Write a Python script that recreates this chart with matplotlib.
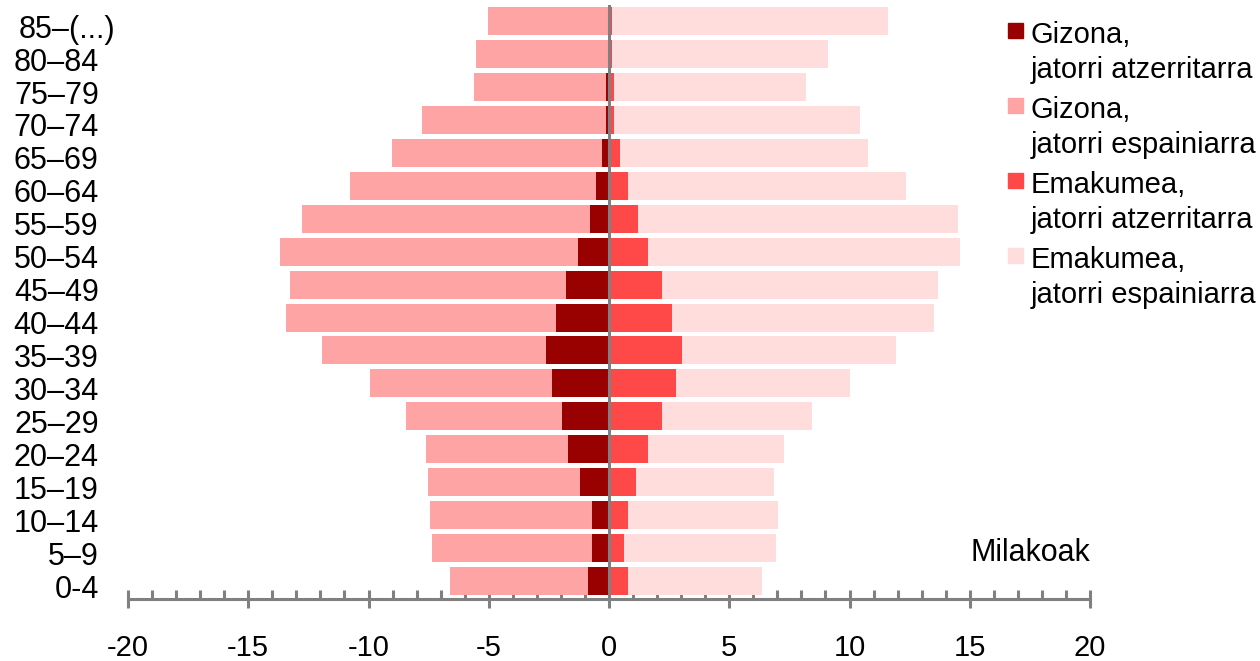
import numpy as np
import matplotlib
matplotlib.use("Agg")
from matplotlib import pyplot as plt
from matplotlib.patches import Rectangle
from matplotlib.transforms import ScaledTranslation

plt.rcParams["font.family"] = ["Liberation Sans", "DejaVu Sans"]

# Age groups, bottom to top
ages = ["0-4", "5–9", "10–14", "15–19", "20–24", "25–29", "30–34", "35–39",
        "40–44", "45–49", "50–54", "55–59", "60–64", "65–69", "70–74",
        "75–79", "80–84", "85–(...)"]

# Thousands of people
men_foreign = [0.87, 0.71, 0.71, 1.21, 1.70, 1.95, 2.37, 2.62, 2.20, 1.79,
               1.29, 0.79, 0.54, 0.29, 0.12, 0.12, 0.05, 0.05]
men_spanish = [5.74, 6.65, 6.73, 6.32, 5.91, 6.49, 7.57, 9.31, 11.23, 11.47,
               12.39, 11.98, 10.23, 8.73, 7.66, 5.49, 5.48, 4.98]
women_foreign = [0.79, 0.62, 0.79, 1.12, 1.62, 2.20, 2.79, 3.04, 2.62, 2.20,
                 1.62, 1.21, 0.79, 0.46, 0.20, 0.20, 0.12, 0.12]
women_spanish = [5.57, 6.32, 6.24, 5.74, 5.66, 6.24, 7.23, 8.89, 10.89, 11.48,
                 12.97, 13.30, 11.56, 10.31, 10.24, 7.99, 8.98, 11.48]

legend_labels = ["Gizona,\njatorri atzerritarra", "Gizona,\njatorri espainiarra",
                 "Emakumea,\njatorri atzerritarra", "Emakumea,\njatorri espainiarra"]
colors = ["#990000", "#FFA4A4", "#FF4848", "#FFDDDD"]
grey = "#808080"

y = np.arange(len(ages))
mf = np.array(men_foreign)
ms = np.array(men_spanish)
wf = np.array(women_foreign)
ws = np.array(women_spanish)

fig = plt.figure(figsize=(12.6, 6.61), dpi=100)
ax = fig.add_axes([128 / 1260, 62 / 661, 962 / 1260, 594 / 661])

h = 0.85
ax.barh(y, -mf, height=h, color=colors[0], zorder=2)
ax.barh(y, -ms, left=-mf, height=h, color=colors[1], zorder=2)
ax.barh(y, wf, height=h, color=colors[2], zorder=2)
ax.barh(y, ws, left=wf, height=h, color=colors[3], zorder=2)

ax.axvline(0, color=grey, lw=2.2, zorder=3)

ax.set_xlim(-20, 20)
ax.set_ylim(-0.546, 17.49)

for s in ["left", "right", "top"]:
    ax.spines[s].set_visible(False)
ax.spines["bottom"].set_color(grey)
ax.spines["bottom"].set_linewidth(2.2)

xt = np.arange(-20, 21, 5)
ax.set_xticks(xt)
ax.set_xticklabels([str(v) for v in xt], fontsize=21)
ax.set_xticks(np.arange(-20, 21, 1), minor=True)
ax.tick_params(axis="x", which="major", direction="inout", length=12.5,
               width=2.2, color=grey, pad=19)
ax.tick_params(axis="x", which="minor", direction="in", length=6.5,
               width=2.2, color=grey)

ax.set_yticks(y)
ax.set_yticklabels(ages, fontsize=22)
ax.tick_params(axis="y", length=0, pad=21)
# labels sit a little below the bar centres; the top one further right
for i, lbl in enumerate(ax.get_yticklabels()):
    dx = 16 / 100 if i == len(ages) - 1 else 0
    lbl.set_transform(lbl.get_transform() + ScaledTranslation(dx, -5 / 100, fig.dpi_scale_trans))

ax.text(20, 0.85, "Milakoak", ha="right", va="center", fontsize=22)

# legend, drawn by hand so the squares line up with the first text line
for i, (lab, c) in enumerate(zip(legend_labels, colors)):
    top = 23 + i * 75
    fig.patches.append(Rectangle((1008 / 1260, 1 - (top + 15) / 661), 15 / 1260, 15 / 661,
                                 transform=fig.transFigure, color=c))
    fig.text(1031 / 1260, 1 - (top - 2) / 661, lab, ha="left", va="top",
             fontsize=21, linespacing=1.32)

fig.savefig("out.png", dpi=100)
